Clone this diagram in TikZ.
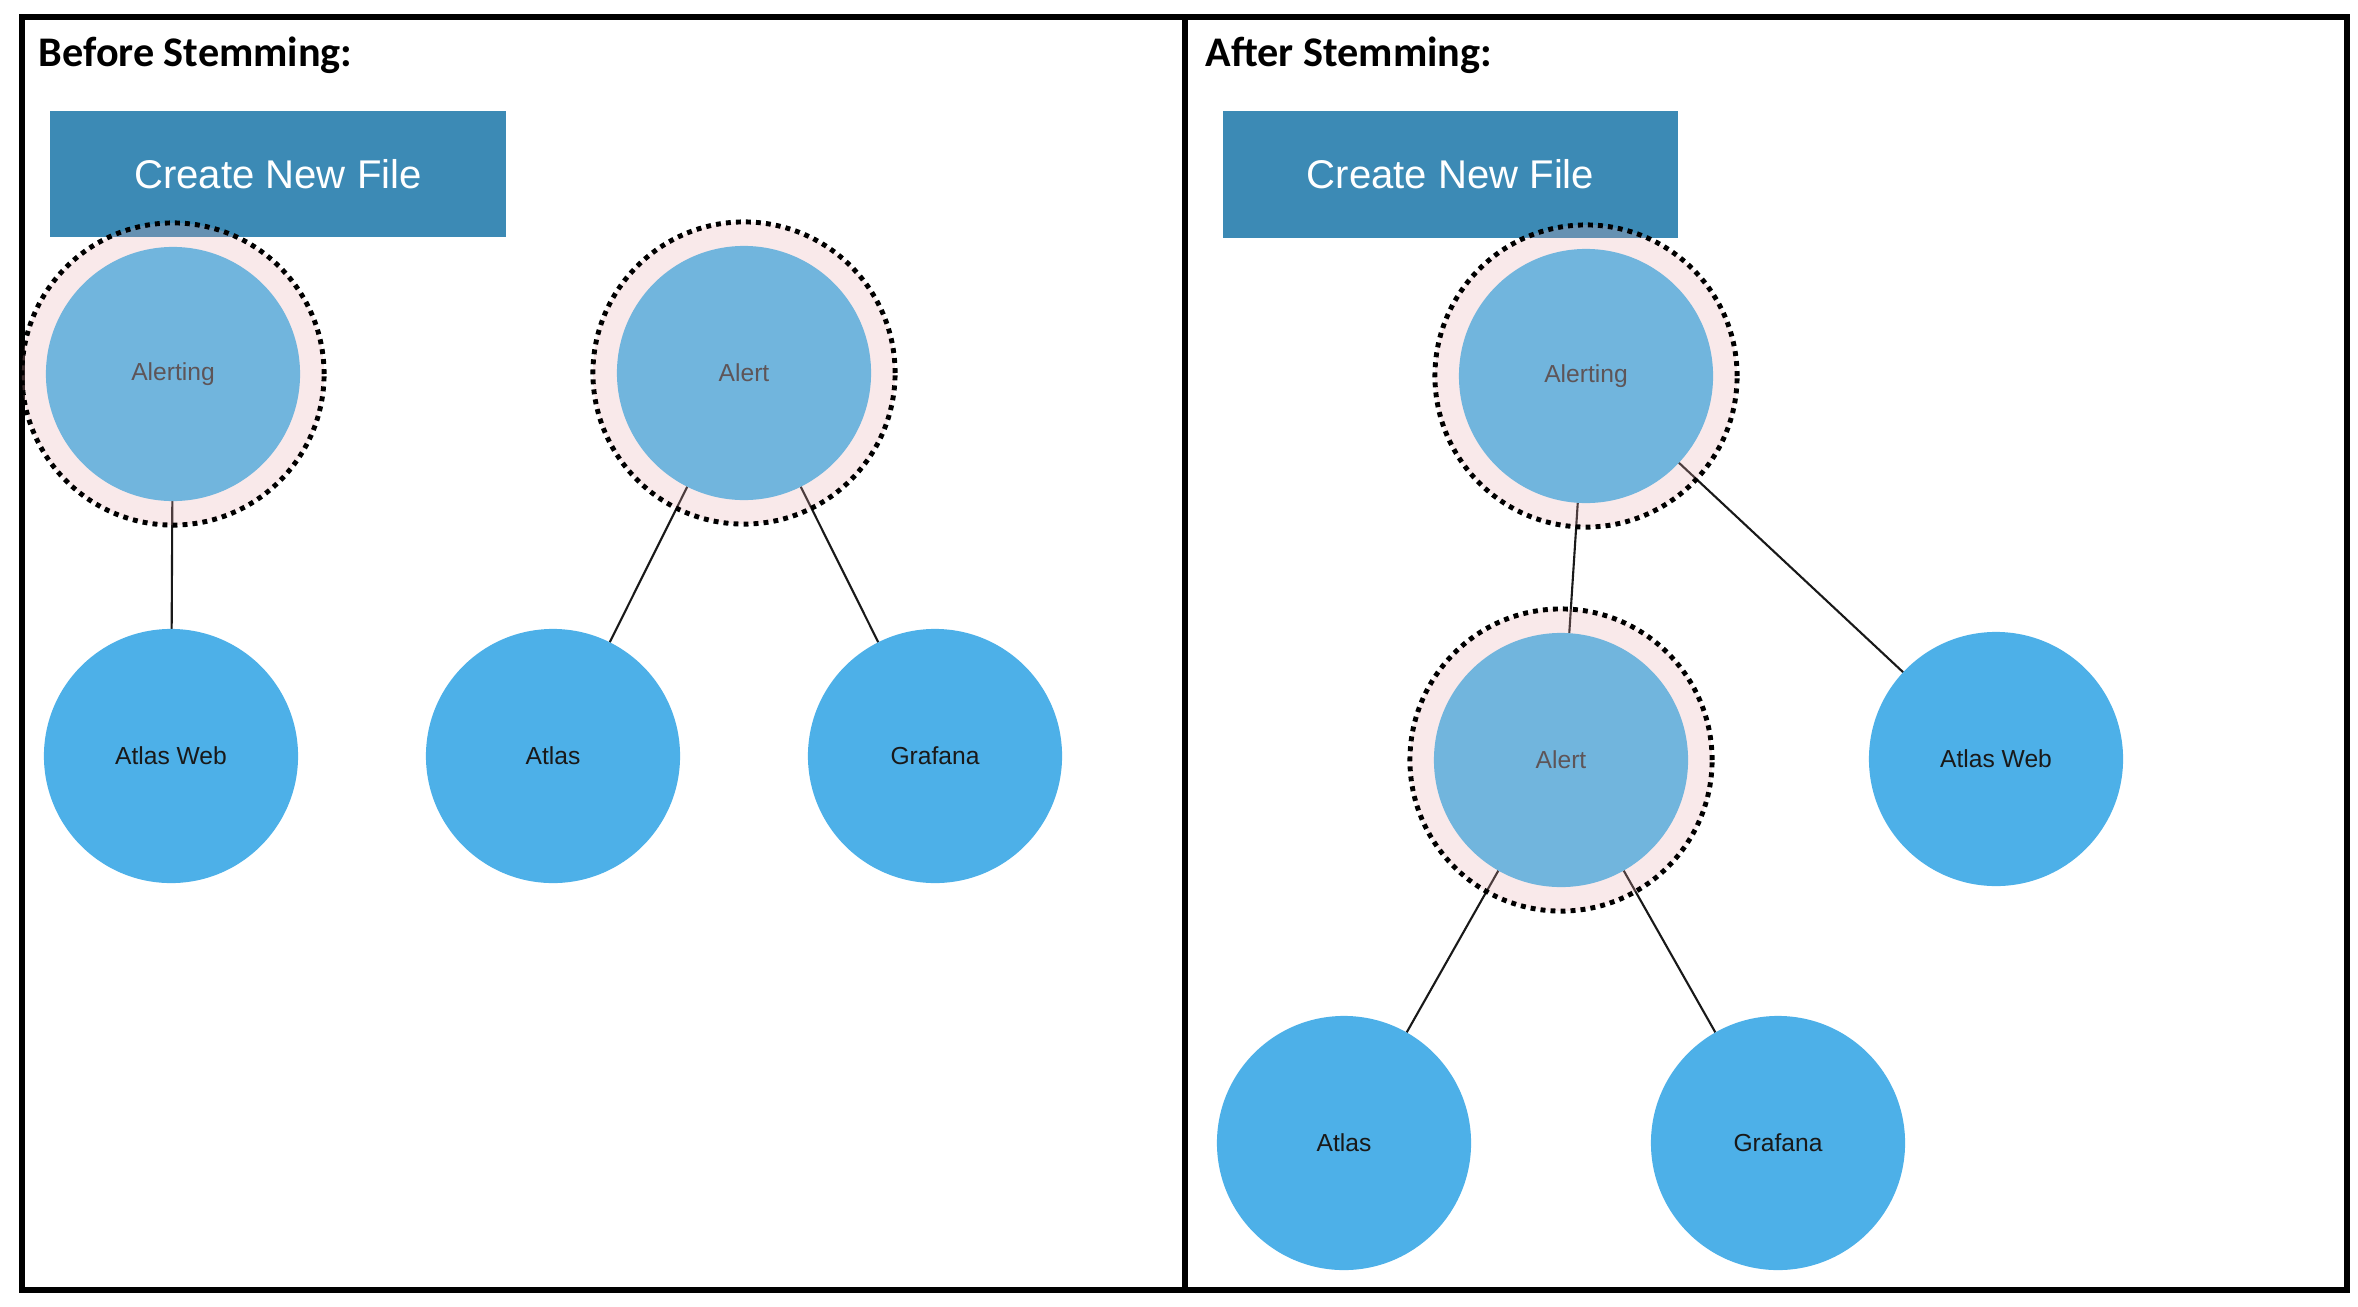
\documentclass[tikz,border=0pt]{standalone}
\usepackage{fontspec}
\newfontfamily\titlefont{Carlito}
\newfontfamily\labelfont{Liberation Sans}
\usetikzlibrary{backgrounds}
\definecolor{boxblue}{RGB}{60,138,181}
\definecolor{wordblue}{RGB}{77,176,232}
\definecolor{stemblue}{RGB}{113,181,221}
\definecolor{ringpink}{RGB}{231,167,171}
\definecolor{stemtext}{RGB}{94,85,88}
\tikzset{
    panel/.style={line width=1.7pt},
    title/.style={anchor=base west,inner sep=0pt,font=\titlefont\bfseries\fontsize{12}{14}\selectfont},
    filebox/.style={fill=boxblue,text=white,minimum width=4.55cm,minimum height=1.26cm,
        inner sep=0pt,font=\labelfont\fontsize{11.4}{13}\selectfont},
    word/.style={circle,fill=wordblue,minimum size=2.54cm,inner sep=0pt,outer sep=0pt,
        text=black!90,font=\labelfont\fontsize{7}{8}\selectfont},
    stem/.style={word,fill=stemblue,text=stemtext},
    ring/.style={circle,fill=ringpink,fill opacity=0.25,draw=black,draw opacity=1,
        line width=1.4pt,dash pattern=on 1.4pt off 1.45pt,minimum size=3.02cm,inner sep=0pt},
    link/.style={line width=0.6pt,black!90}
}
\begin{document}
\begin{tikzpicture}[x=0.01cm,y=-0.01cm]
    \useasboundingbox (0,0) rectangle (2358,1306);
    \draw [panel] (22,17) rectangle (2347,1290);
    \draw [panel] (1185,17) -- (1185,1290);

    \node [title] (before) at (38,66) {Before Stemming:};
    \node [title] (after) at (1205,66) {After Stemming:};

    % before stemming
    \node [ring] (alertingLring) at (173,374) {};
    \node [stem] (alertingL) at (173,374) {Alerting};
    \node [ring] (alertLring) at (744,373) {};
    \node [stem] (alertL) at (744,373) {Alert};
    \node [word] (atlaswebL) at (171,756) {Atlas Web};
    \node [word] (atlasL) at (553,756) {Atlas};
    \node [word] (grafanaL) at (935,756) {Grafana};

    % after stemming
    \node [ring] (alertingRring) at (1586,376) {};
    \node [stem] (alertingR) at (1586,376) {Alerting};
    \node [ring] (alertRring) at (1561,760) {};
    \node [stem] (alertR) at (1561,760) {Alert};
    \node [word] (atlaswebR) at (1996,759) {Atlas Web};
    \node [word] (atlasR) at (1344,1143) {Atlas};
    \node [word] (grafanaR) at (1778,1143) {Grafana};

    \begin{scope}[on background layer]
        \node [filebox] (newfileL) at (278,174) {Create New File};
        \node [filebox] (newfileR) at (1450.5,174.5) {Create New File};
        \draw [link] (alertingL) -- (atlaswebL);
        \draw [link] (alertL) -- (atlasL);
        \draw [link] (alertL) -- (grafanaL);
        \draw [link] (alertingR) -- (alertR);
        \draw [link] (alertingR) -- (atlaswebR);
        \draw [link] (alertR) -- (atlasR);
        \draw [link] (alertR) -- (grafanaR);
    \end{scope}
\end{tikzpicture}
\end{document}
